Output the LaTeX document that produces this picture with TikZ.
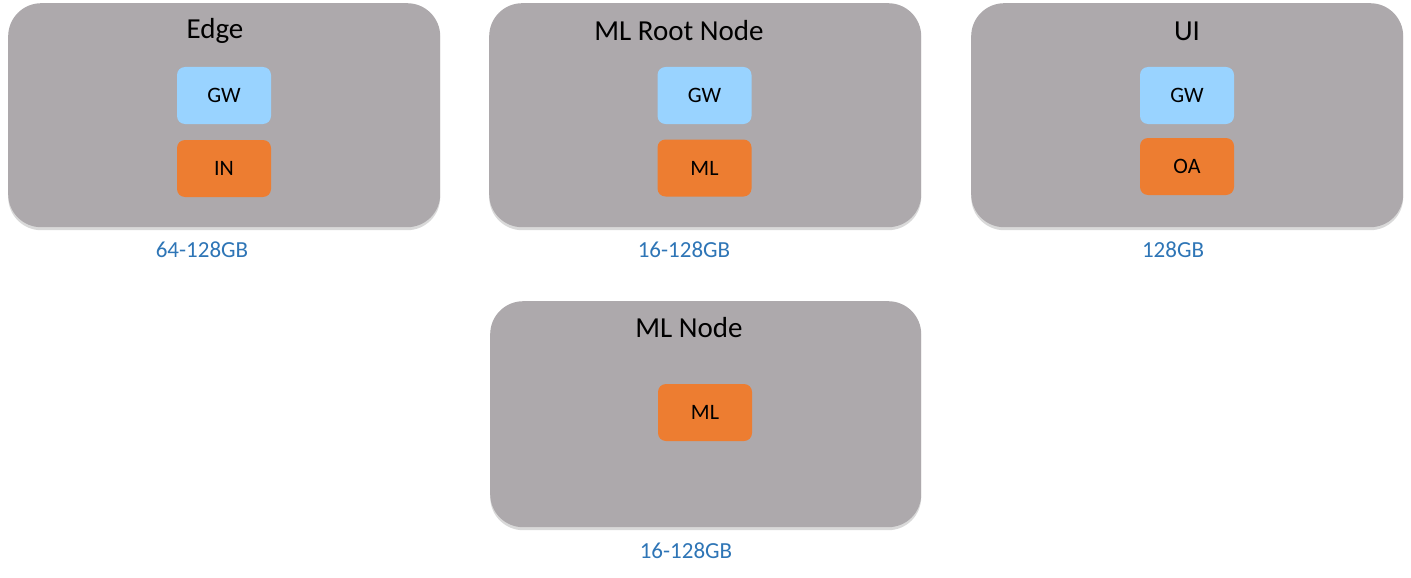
\documentclass[tikz,border=0pt]{standalone}
\usepackage{fontspec}
\setmainfont{Carlito}
\usetikzlibrary{shadows}
\definecolor{boxgray}{HTML}{ADA9AC}
\definecolor{gwblue}{HTML}{99D3FF}
\definecolor{orng}{HTML}{ED7D31}
\definecolor{lblblue}{HTML}{2E75B6}
\tikzset{
  outer/.style={fill=boxgray, rounded corners=33pt, anchor=north west, inner sep=0pt,
    drop shadow={shadow xshift=0pt, shadow yshift=-3pt, opacity=0.15, fill=black}},
  title/.style={font=\fontsize{29}{33}\selectfont, text=black},
  gw/.style={fill=gwblue, rounded corners=8pt, minimum width=94pt, minimum height=57pt, inner sep=0pt, font=\fontsize{22}{26}\selectfont},
  comp/.style={fill=orng, rounded corners=8pt, minimum width=94pt, minimum height=57pt, inner sep=0pt, font=\fontsize{22}{26}\selectfont},
  mem/.style={text=lblblue, font=\fontsize{23}{27}\selectfont},
}
\begin{document}
\begin{tikzpicture}[x=1pt,y=-1pt]
\useasboundingbox (0,0) rectangle (1411,578);
% outer boxes
\node[outer, minimum width=432pt, minimum height=224pt] (edge) at (8,3) {};
\node[outer, minimum width=432pt, minimum height=224pt] (root) at (489,3) {};
\node[outer, minimum width=432pt, minimum height=224pt] (ui) at (971,3) {};
\node[outer, minimum width=431pt, minimum height=226pt] (mlnode) at (490,301) {};
% titles
\node[title] (tedge) at (215,31) {Edge};
\node[title] (troot) at (679,31) {ML Root Node};
\node[title] (tui) at (1187,31) {UI};
\node[title] (tml) at (689,328) {ML Node};
% inner boxes
\node[gw] (gw1) at (224,95.5) {GW};
\node[comp] (in) at (224,168.5) {IN};
\node[gw] (gw2) at (704.5,95.5) {GW};
\node[comp] (ml1) at (704.5,168) {ML};
\node[gw] (gw3) at (1187,95.5) {GW};
\node[comp] (oa) at (1187,166.5) {OA};
\node[comp] (ml2) at (705,412.5) {ML};
% memory labels
\node[mem] (m1) at (202,250) {64-128GB};
\node[mem] (m2) at (684,250) {16-128GB};
\node[mem] (m3) at (1173,250) {128GB};
\node[mem] (m4) at (686,551) {16-128GB};
\end{tikzpicture}
\end{document}
